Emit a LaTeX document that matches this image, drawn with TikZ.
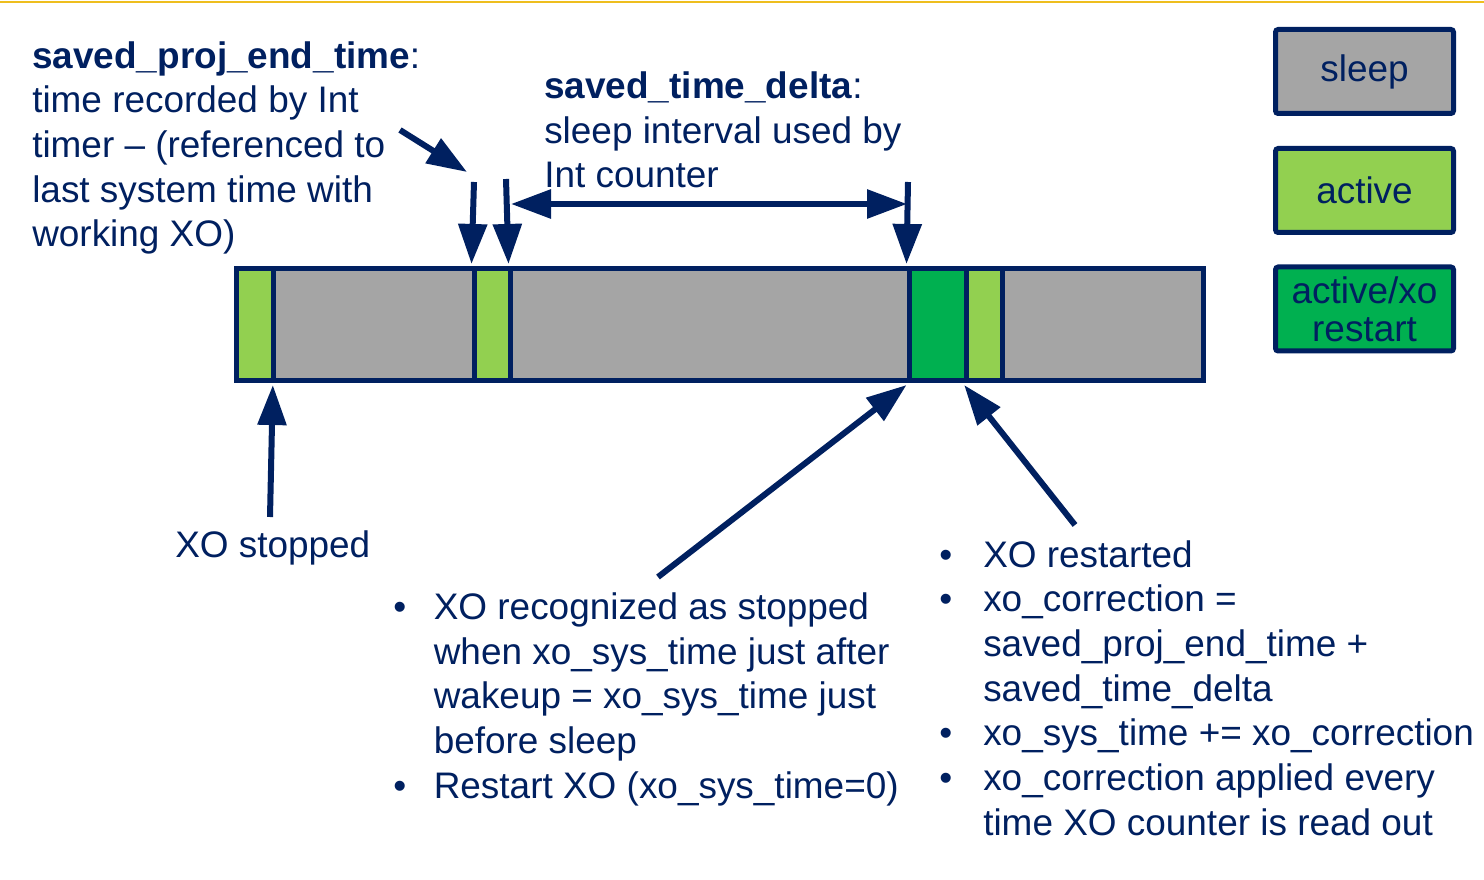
\documentclass[tikz,border=0pt]{standalone}
\usepackage{fontspec}
\setmainfont{Liberation Sans}
\usetikzlibrary{arrows.meta,fit}
\definecolor{navy}{RGB}{0,32,96}
\definecolor{sleepgrey}{RGB}{165,165,165}
\definecolor{actgreen}{RGB}{146,208,80}
\definecolor{xogreen}{RGB}{0,176,80}
\definecolor{goldline}{RGB}{238,190,30}
\begin{document}
\begin{tikzpicture}[x=0.75pt,y=-0.75pt,
  seg/.style={draw=navy,line width=3.75pt,inner sep=0pt},
  arr/.style={draw=navy,line width=4.5pt,-{Triangle[length=30pt,width=21pt]}},
  darr/.style={draw=navy,line width=4.5pt,{Triangle[length=30pt,width=21pt]}-{Triangle[length=30pt,width=21pt]}},
  txt/.style={inner sep=0pt,anchor=base west,align=left,text=navy,font=\fontsize{27.7}{33.5}\selectfont},
  legend/.style={draw=navy,line width=3.75pt,rounded corners=2pt,inner sep=0pt,minimum width=133.5pt,minimum height=63pt,text=navy,align=center,font=\fontsize{27.7}{28.5}\selectfont}
]
\useasboundingbox (0,0) rectangle (1484,880);
\fill[white] (0,0) rectangle (1484,880);
\draw[goldline,line width=2pt] (0,2) -- (1484,2);

% timeline bar segments
\node[seg,fill=actgreen,fit={(236,269)(273,380)}] (s1) {};
\node[seg,fill=sleepgrey,fit={(273,269)(474,380)}] (s2) {};
\node[seg,fill=actgreen,fit={(474,269)(510,380)}] (s3) {};
\node[seg,fill=sleepgrey,fit={(510,269)(909,380)}] (s4) {};
\node[seg,fill=xogreen,fit={(909,269)(966,380)}] (s5) {};
\node[seg,fill=actgreen,fit={(966,269)(1002,380)}] (s6) {};
\node[seg,fill=sleepgrey,fit={(1002,269)(1203,380)}] (s7) {};

% legend
\node[legend,fill=sleepgrey] (lsleep) at (1364.5,71.5) {sleep};
\node[legend,fill=actgreen] (lactive) at (1364.5,190.5) {active};
\node[legend,fill=xogreen] (lxo) at (1364.5,309) {active/xo\\restart};

% texts (anchor = baseline of the last line)
\node[txt] (t1) at (32,247) {\textbf{saved\_proj\_end\_time}:\\time recorded by Int\\timer – (referenced to\\last system time with\\working XO)};
\node[txt] (t2) at (544,188) {\textbf{saved\_time\_delta}:\\sleep interval used by\\Int counter};
\node[txt] (t3) at (175,557) {XO stopped};
\node[txt] (t4) at (393,798) {\makebox[30.4pt][l]{•}XO recognized as stopped\\\hspace*{30.4pt}when xo\_sys\_time just after\\\hspace*{30.4pt}wakeup = xo\_sys\_time just\\\hspace*{30.4pt}before sleep\\\makebox[30.4pt][l]{•}Restart XO (xo\_sys\_time=0)};
\node[txt] (t5) at (939,835) {\makebox[33pt][l]{•}XO restarted\\\makebox[33pt][l]{•}xo\_correction =\\\hspace*{33pt}saved\_proj\_end\_time +\\\hspace*{33pt}saved\_time\_delta\\\makebox[33pt][l]{•}xo\_sys\_time += xo\_correction\\\makebox[33pt][l]{•}xo\_correction applied every\\\hspace*{33pt}time XO counter is read out};

% arrows
\coordinate (a0s) at (400,130);
\coordinate (a0e) at (467,172);
\draw[arr] (a0s) -- (a0e);
\coordinate (a1s) at (474,182);
\draw[arr] (a1s) -- ([yshift=1.9pt]s3.north west);
\coordinate (a2s) at (506,179);
\draw[arr] (a2s) -- ([xshift=-3pt,yshift=1.9pt]s3.north east);
\coordinate (a3s) at (908,182);
\draw[arr] (a3s) -- ([yshift=1.9pt]s5.north west);
\coordinate (dl) at (511,204);
\coordinate (dr) at (907,204);
\draw[darr] (dl) -- (dr);
\coordinate (b1s) at (270,517);
\draw[arr] (b1s) -- ([xshift=-2pt,yshift=-1.9pt]s1.south east);
\coordinate (b2s) at (658,577);
\draw[arr] (b2s) -- ([yshift=-1.9pt]s5.south west);
\coordinate (b3s) at (1075,525);
\draw[arr] (b3s) -- ([xshift=0.5pt,yshift=-1.9pt]s6.south west);
\end{tikzpicture}
\end{document}
